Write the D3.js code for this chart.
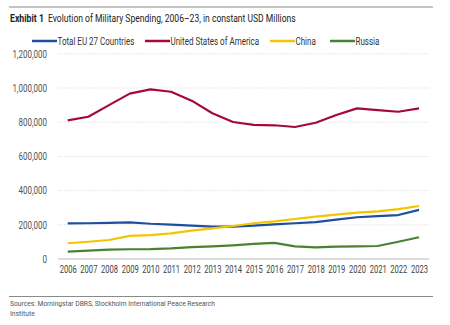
<!DOCTYPE html>
<html>
<head>
<meta charset="utf-8">
<script src="https://cdn.jsdelivr.net/npm/d3@7"></script>
<style>
  body { margin: 0; background: #fff; }
  text { font-family: "Roboto", "Liberation Sans", sans-serif; }
</style>
</head>
<body>
<div id="chart_area"></div>
<script>
var years = [2006, 2007, 2008, 2009, 2010, 2011, 2012, 2013, 2014, 2015, 2016, 2017, 2018, 2019, 2020, 2021, 2022, 2023];
var euValues = [208000, 209000, 211000, 214000, 206000, 201000, 195000, 189000, 189000, 195000, 203000, 209000, 216000, 230000, 244000, 251000, 257000, 287000];
var usValues = [811000, 832000, 900000, 967000, 992000, 978000, 926000, 852000, 801000, 784000, 782000, 772000, 797000, 842000, 881000, 871000, 861000, 881000];
var chinaValues = [92000, 101000, 111000, 135000, 140000, 150000, 166000, 179000, 193000, 209000, 220000, 234000, 248000, 259000, 271000, 279000, 292000, 310000];
var russiaValues = [43000, 49000, 55000, 57000, 58000, 62000, 70000, 74000, 80000, 88000, 94000, 74000, 68000, 72000, 74000, 76000, 101000, 127000];
var seriesNames = ["Total EU 27 Countries", "United States of America", "China", "Russia"];
var yTicks = [0, 200000, 400000, 600000, 800000, 1000000, 1200000];

var colors = ["#1f4e9e", "#a3093d", "#f4c400", "#4b8130"];
var series = [euValues, usValues, chinaValues, russiaValues];

// squeeze text horizontally to mimic the condensed face of the original
function squeeze(sel, f) {
    sel.each(function () {
        var w = this.getComputedTextLength();
        d3.select(this).attr("textLength", w * f).attr("lengthAdjust", "spacingAndGlyphs");
    });
}

// same idea for the title, but with a scale transform so the box shrinks too
function fitWidth(t, px, py, target) {
    var w = t.node().getComputedTextLength();
    t.attr("transform", "translate(" + px + "," + py + ") scale(" + (target / w) + ",1)");
}

var svg = d3.select("#chart_area")
    .append("svg")
    .attr("width", 450)
    .attr("height", 325);

// top and bottom rules
svg.append("line").attr("x1", 9).attr("x2", 433).attr("y1", 7).attr("y2", 7)
    .attr("stroke", "#8a8a8a").attr("stroke-width", 1.2);
svg.append("line").attr("x1", 9).attr("x2", 433).attr("y1", 296.5).attr("y2", 296.5)
    .attr("stroke", "#8a8a8a").attr("stroke-width", 1.2);

// title
var t1 = svg.append("text")
    .attr("font-size", 11).attr("font-weight", "bold").attr("fill", "#222")
    .text("Exhibit 1");
fitWidth(t1, 10, 21.5, 34);
var t2 = svg.append("text")
    .attr("font-size", 11).attr("fill", "#222")
    .text("Evolution of Military Spending, 2006\u201323, in constant USD Millions");
fitWidth(t2, 48, 21.5, 248);

// legend
var legendX = [32, 145, 270, 330];
seriesNames.forEach(function (name, i) {
    svg.append("line")
        .attr("x1", legendX[i]).attr("x2", legendX[i] + 25)
        .attr("y1", 41).attr("y2", 41)
        .attr("stroke", colors[i]).attr("stroke-width", 2.5);
    var t = svg.append("text")
        .attr("x", legendX[i] + 25.5).attr("y", 44.5)
        .attr("font-size", 10).attr("fill", "#333")
        .text(name);
    squeeze(t, 0.8);
});

var x = d3.scalePoint().domain(years).range([67.7, 419]);
var y = d3.scaleLinear().domain([0, 1200000]).range([259, 53.8]);

// gridlines
svg.append("g").selectAll("line")
    .data(yTicks.filter(function (d) { return d > 0; }))
    .enter().append("line")
    .attr("x1", 58).attr("x2", 429)
    .attr("y1", function (d) { return y(d); })
    .attr("y2", function (d) { return y(d); })
    .attr("stroke", "#e3e3e3").attr("stroke-width", 0.8)
    .attr("stroke-dasharray", "2,1");

// baseline
svg.append("line").attr("x1", 58).attr("x2", 429)
    .attr("y1", y(0)).attr("y2", y(0))
    .attr("stroke", "#bbb").attr("stroke-width", 1);

// y axis labels
var fmt = d3.format(",");
var yAxis = d3.axisLeft(y).tickValues(yTicks).tickFormat(fmt).tickSize(0).tickPadding(0);
var yg = svg.append("g").attr("transform", "translate(47,0)").call(yAxis);
yg.select(".domain").remove();
yg.selectAll("text").attr("font-size", 10).attr("fill", "#555")
    .style("font-family", "Roboto, sans-serif");
squeeze(yg.selectAll("text"), 0.8);

// x axis labels
var xAxis = d3.axisBottom(x).tickSize(0).tickPadding(0);
var xg = svg.append("g").attr("transform", "translate(0,266)").call(xAxis);
xg.select(".domain").remove();
xg.selectAll("text").attr("font-size", 10).attr("fill", "#444")
    .style("font-family", "Roboto, sans-serif");
squeeze(xg.selectAll("text"), 0.76);

// lines
var line = d3.line()
    .x(function (d, i) { return x(years[i]); })
    .y(function (d) { return y(d); });

series.forEach(function (vals, i) {
    svg.append("path")
        .datum(vals)
        .attr("d", line)
        .attr("fill", "none")
        .attr("stroke", colors[i])
        .attr("stroke-width", 2.2)
        .attr("stroke-linejoin", "round");
});

// source
var s1 = svg.append("text").attr("x", 10).attr("y", 306)
    .attr("font-size", 8).attr("fill", "#555")
    .text("Sources: Morningstar DBRS, Stockholm International Peace Research");
s1.attr("textLength", 205).attr("lengthAdjust", "spacingAndGlyphs");
var s2 = svg.append("text").attr("x", 10).attr("y", 316)
    .attr("font-size", 8).attr("fill", "#555")
    .text("Institute");
squeeze(s2, 0.85);
</script>
</body>
</html>
